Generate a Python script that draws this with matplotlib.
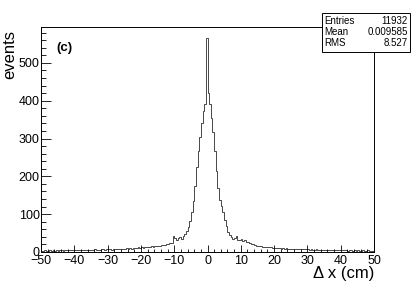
import numpy as np
import matplotlib.pyplot as plt
from matplotlib.patches import Rectangle
from matplotlib.ticker import MultipleLocator

plt.rcParams['font.family'] = ['Liberation Sans', 'DejaVu Sans']

# histogram: 200 bins of 0.5 cm from -50 to 50
bin_edges = np.arange(-50, 50.25, 0.5)

# -50 .. -10
left_tail = [3, 2, 4, 3, 2, 4, 3, 4, 3, 4,
             3, 5, 4, 3, 4, 4, 5, 4, 5, 4,
             5, 4, 4, 6, 5, 5, 4, 6, 5, 6,
             6, 5, 7, 6, 6, 5, 7, 7, 6, 7,
             7, 8, 6, 8, 8, 7, 9, 8, 8, 9,
             9, 10, 9, 10, 9, 11, 10, 11, 12, 11,
             12, 11, 13, 12, 14, 13, 15, 14, 16, 15,
             17, 16, 18, 19, 18, 21, 20, 23, 25, 42]
# -10 .. 10
core = [36, 31, 37, 40, 35, 43, 47, 55, 66, 82,
        105, 135, 175, 225, 268, 305, 340, 372, 392, 566,
        420, 392, 355, 318, 268, 215, 170, 138, 122, 105,
        84, 68, 54, 46, 40, 35, 37, 43, 31, 33]
# 10 .. 50
right_tail = [34, 30, 31, 27, 26, 23, 21, 20, 18, 17,
              17, 15, 15, 14, 14, 13, 13, 12, 12, 11,
              11, 10, 11, 10, 9, 10, 9, 10, 8, 9,
              9, 8, 9, 7, 8, 8, 7, 8, 7, 7,
              7, 6, 7, 6, 6, 7, 5, 6, 6, 5,
              6, 5, 5, 6, 4, 5, 5, 4, 5, 4,
              4, 5, 4, 4, 3, 5, 4, 3, 4, 3,
              4, 3, 3, 4, 3, 3, 4, 3, 2, 3]
counts = np.array(left_tail + core + right_tail)

stat_names = ['Entries', 'Mean', 'RMS']
stat_values = ['11932', '0.009585', '8.527']

fig = plt.figure(figsize=(4.15, 2.81), dpi=100)
ax = fig.add_axes([41/415, 1-252/281, 333/415, 225/281])

ax.stairs(counts, bin_edges, color='#2a2a2a', lw=0.6)
ax.set_xlim(-50, 50)
ax.set_ylim(0, 595)

ax.xaxis.set_major_locator(MultipleLocator(10))
ax.xaxis.set_minor_locator(MultipleLocator(2))
ax.yaxis.set_major_locator(MultipleLocator(100))
ax.yaxis.set_minor_locator(MultipleLocator(20))
ax.tick_params(axis='x', which='major', direction='in', length=4.9, width=0.6, labelsize=9, pad=2)
ax.tick_params(axis='x', which='minor', direction='in', length=2.4, width=0.6)
ax.tick_params(axis='y', which='major', direction='in', length=7.2, width=0.6, labelsize=9, pad=1)
ax.tick_params(axis='y', which='minor', direction='in', length=3.6, width=0.6)
for s in ax.spines.values():
    s.set_linewidth(0.7)

ax.text(0.045, 0.905, '(c)', transform=ax.transAxes, fontsize=9.5, fontweight='bold', va='center')

fig.text(0.024, 0.895, 'events', rotation=90, ha='center', va='top', fontsize=12)
fig.text(374/415, 0.027, '\u0394 x (cm)', ha='right', va='center', fontsize=12)

# stats box
box = Rectangle((322/415, 1-52/281), 88/415, 39/281, transform=fig.transFigure,
                facecolor='white', edgecolor='black', lw=0.7, zorder=5)
fig.patches.append(box)
for i, (n, v) in enumerate(zip(stat_names, stat_values)):
    y = 1 - (20.5 + 11.5*i)/281
    fig.text(324/415, y, n, fontsize=7, va='center', ha='left', zorder=6)
    fig.text(408/415, y, v, fontsize=7, va='center', ha='right', zorder=6)

fig.savefig('out.png', dpi=100)
